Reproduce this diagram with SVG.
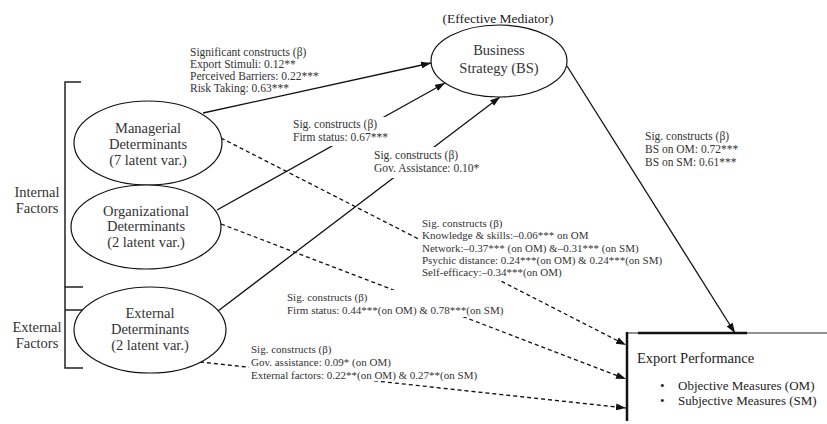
<svg xmlns="http://www.w3.org/2000/svg" width="827" height="424" viewBox="0 0 827 424">
<style>
.bg{fill:#ffffff}
.el{fill:#ffffff;stroke:#111;stroke-width:1.2}
.nt{font-family:"Liberation Serif",serif;font-size:14.5px;fill:#333;text-anchor:middle}
.lb{font-family:"Liberation Serif",serif;font-size:11.5px;fill:#333}
.ls{font-family:"Liberation Serif",serif;font-size:11px;fill:#333}
.tm{font-family:"Liberation Serif",serif;fill:#222}
.sl{fill:none;stroke:#111;stroke-width:1.3}
.dl{fill:none;stroke:#111;stroke-width:1.3;stroke-dasharray:4 3}
.br{fill:none;stroke:#222;stroke-width:1.5}
.wb{fill:#ffffff}
</style>
<defs>
<marker id="ah" markerWidth="10" markerHeight="7" refX="10" refY="3.5" orient="auto" markerUnits="userSpaceOnUse">
<path d="M0,0 L10,3.5 L0,7 z" fill="#111"/>
</marker>
</defs>
<rect class="bg" x="0" y="0" width="827" height="424"/>

<g id="connectors">
<line class="sl" x1="203" y1="113" x2="431" y2="63" marker-end="url(#ah)"/>
<line class="sl" x1="217" y1="210" x2="445" y2="83" marker-end="url(#ah)"/>
<line class="sl" x1="218" y1="311" x2="500" y2="97" marker-end="url(#ah)"/>
<line class="sl" x1="567" y1="66" x2="735" y2="333" marker-end="url(#ah)"/>
<line class="dl" x1="221" y1="138" x2="626" y2="345" marker-end="url(#ah)"/>
<line class="dl" x1="221" y1="224" x2="626" y2="379" marker-end="url(#ah)"/>
<line class="dl" x1="200" y1="362" x2="626" y2="408" marker-end="url(#ah)"/>
</g>

<g id="label-managerial-bs">
<text class="lb" x="190" y="56">Significant constructs (β)</text>
<text class="lb" x="190" y="68">Export Stimuli: 0.12**</text>
<text class="lb" x="190" y="80">Perceived Barriers: 0.22***</text>
<text class="lb" x="190" y="92">Risk Taking: 0.63***</text>
</g>
<g id="label-org-bs">
<rect class="wb" x="290" y="117" width="100" height="29"/>
<text class="lb" x="293" y="128">Sig. constructs (β)</text>
<text class="lb" x="293" y="141">Firm status: 0.67***</text>
</g>
<g id="label-ext-bs">
<rect class="wb" x="371" y="147" width="113" height="31"/>
<text class="lb" x="374" y="159">Sig. constructs (β)</text>
<text class="lb" x="374" y="172">Gov. Assistance: 0.10*</text>
</g>
<g id="label-bs-ep">
<text class="lb" x="645" y="140">Sig. constructs (β)</text>
<text class="lb" x="645" y="153">BS on OM: 0.72***</text>
<text class="lb" x="645" y="166">BS on SM: 0.61***</text>
</g>
<g id="label-managerial-ep">
<rect class="wb" x="420" y="216" width="240" height="64"/>
<text class="ls" x="422" y="227">Sig. constructs (β)</text>
<text class="ls" x="422" y="239">Knowledge &amp; skills:–0.06*** on OM</text>
<text class="ls" x="422" y="252">Network:–0.37*** (on OM) &amp;–0.31*** (on SM)</text>
<text class="ls" x="422" y="264">Psychic distance: 0.24***(on OM) &amp; 0.24***(on SM)</text>
<text class="ls" x="422" y="276">Self-efficacy:–0.34***(on OM)</text>
</g>
<g id="label-org-ep">
<rect class="wb" x="285" y="290" width="225" height="27"/>
<text class="ls" x="287" y="301">Sig. constructs (β)</text>
<text class="ls" x="287" y="314">Firm status: 0.44***(on OM) &amp; 0.78***(on SM)</text>
</g>
<g id="label-ext-ep">
<rect class="wb" x="249" y="341" width="212" height="40"/>
<text class="ls" x="251" y="353">Sig. constructs (β)</text>
<text class="ls" x="251" y="366">Gov. assistance: 0.09* (on OM)</text>
<text class="ls" x="251" y="379">External factors: 0.22**(on OM) &amp; 0.27**(on SM)</text>
</g>

<g id="node-bs">
<text class="tm" x="498" y="23" font-size="13.5" text-anchor="middle">(Effective Mediator)</text>
<ellipse class="el" cx="499" cy="61" rx="68" ry="36"/>
<text class="nt" x="499" y="55">Business</text>
<text class="nt" x="499" y="73">Strategy (BS)</text>
</g>
<g id="node-managerial">
<ellipse class="el" cx="148" cy="143" rx="74" ry="42"/>
<text class="nt" x="148" y="133">Managerial</text>
<text class="nt" x="148" y="149">Determinants</text>
<text class="nt" x="148" y="165">(7 latent var.)</text>
</g>
<g id="node-organizational">
<ellipse class="el" cx="146" cy="227" rx="75" ry="42"/>
<text class="nt" x="146" y="216">Organizational</text>
<text class="nt" x="146" y="231">Determinants</text>
<text class="nt" x="146" y="247">(2 latent var.)</text>
</g>
<g id="node-external">
<ellipse class="el" cx="150" cy="330" rx="76" ry="43"/>
<text class="nt" x="150" y="318">External</text>
<text class="nt" x="150" y="334">Determinants</text>
<text class="nt" x="150" y="350">(2 latent var.)</text>
</g>

<g id="group-internal">
<path class="br" d="M81,82 H65 V287 H83"/>
<text class="nt" x="37" y="197">Internal</text>
<text class="nt" x="37" y="213">Factors</text>
</g>
<g id="group-external">
<path class="br" d="M83,310 H65 V368 H83 M65,287 V310"/>
<text class="nt" x="37" y="332">External</text>
<text class="nt" x="37" y="348">Factors</text>
</g>

<g id="node-export">
<line x1="627" y1="333" x2="827" y2="333" stroke="#222" stroke-width="1"/>
<line x1="638" y1="333" x2="747" y2="333" stroke="#111" stroke-width="2.5"/>
<line x1="627" y1="332" x2="627" y2="421" stroke="#111" stroke-width="2.5"/>
<text class="tm" x="637" y="363" font-size="14.5">Export Performance</text>
<text class="tm" x="660" y="390" font-size="13">•</text>
<text class="tm" x="678" y="390" font-size="13">Objective Measures (OM)</text>
<text class="tm" x="660" y="405" font-size="13">•</text>
<text class="tm" x="678" y="405" font-size="13">Subjective Measures (SM)</text>
</g>
</svg>
